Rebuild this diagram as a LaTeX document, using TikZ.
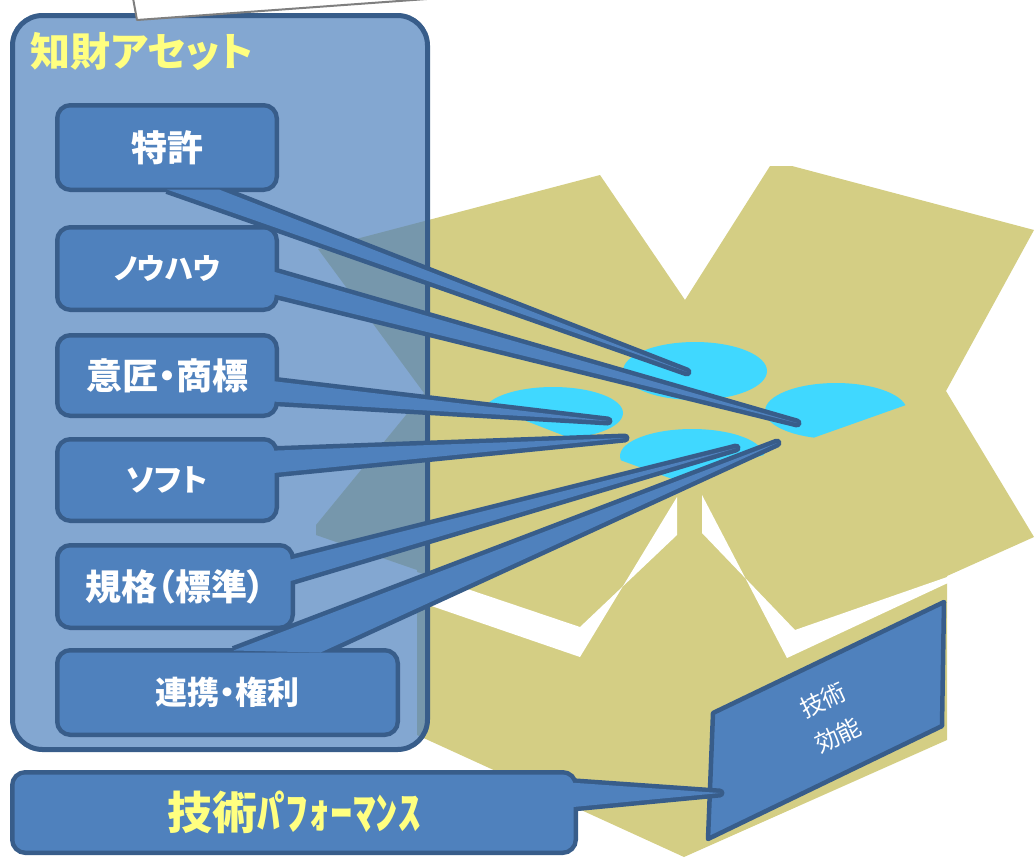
\documentclass[tikz,border=0pt]{standalone}
\usepackage{fontspec}
\newfontfamily\jp{Noto Sans CJK JP}[RawFeature=+palt]
\usetikzlibrary{calc}

\definecolor{boxblue}{HTML}{4F81BD}
\definecolor{edgeblue}{HTML}{385D8A}
\definecolor{cardboard}{HTML}{D4CE84}
\definecolor{lidblue}{HTML}{40D8FF}
\definecolor{titleyellow}{HTML}{FFFF80}
\definecolor{papergray}{HTML}{7F7F7F}

% bold Japanese face at a given size (pt)
\newcommand{\jpbold}[1]{\jp\bfseries\fontsize{#1}{#1}\selectfont}
% speech-bubble tail: outline first, then the body over it
\newcommand{\drawtail}[3]{%
  \path[tailedge] #1 -- #2 -- #3;
  \fill[boxblue] #1 -- #2 -- #3 -- cycle;}

\begin{document}
\begin{tikzpicture}[x=1pt, y=-1pt,
  boxsize/.style 2 args={minimum width=#1pt, minimum height=#2pt},
  cardbase/.style={rectangle, rounded corners=11pt, inner sep=0pt,
    draw=edgeblue, line width=9pt, fill=boxblue},
  cardface/.style={rectangle, rounded corners=11pt, inner sep=0pt,
    fill=boxblue, text=white},
  tailedge/.style={draw=edgeblue, line width=9pt, line join=round},
  panel/.style={fill=boxblue, draw=edgeblue, line width=4.5pt, line join=round},
  paneltext/.style={rotate=25, text=white, inner sep=1pt,
    font=\jp\fontsize{24}{24}\selectfont},
  lid/.style={fill=lidblue},
  slit/.style={fill=white}]

\useasboundingbox (0,0) rectangle (1035,857);

% ---- open cardboard box ----
\fill[cardboard] (318,249) -- (600,175) -- (685,300) -- (770,166) -- (792,166)
  -- (1034,230) -- (946,391) -- (1034,537) -- (947,576) -- (947,740)
  -- (684,857) -- (417,735) -- (417,570) -- (316,535) -- (316,525)
  -- (424,393) -- cycle;
% gaps between the flaps and the box body
\fill[slit] (677,497) -- (677,535) -- (580,627) -- (417,572) -- (417,601)
  -- (580,657) -- cycle;
\fill[slit] (702,495) -- (702,533) -- (795,630) -- (950,576) -- (950,582)
  -- (787,658) -- cycle;

% ---- light-blue discs inside the box ----
\fill[lid] (695,371) ellipse [x radius=72pt, y radius=29pt];
\begin{scope}
  \clip (1098,337) -- (618,507) -- (600,300) -- (1100,300) -- cycle;
  \fill[lid] (836,411) ellipse [x radius=71pt, y radius=28pt];
\end{scope}
\begin{scope}
  \clip (315,339) -- (740,504) -- (740,300) -- (315,300) -- cycle;
  \fill[lid] (553,413) ellipse [x radius=70pt, y radius=26pt];
\end{scope}
\begin{scope}
  \clip (565,440) -- (675,480) -- (853,430) -- (853,380) -- (565,380) -- cycle;
  \fill[lid] (692,456) ellipse [x radius=72pt, y radius=27pt];
\end{scope}

% ---- IP asset container ----
\node[rectangle, rounded corners=30pt, inner sep=0pt, boxsize={415}{734},
  fill=boxblue, fill opacity=0.7, draw=edgeblue, line width=5pt]
  (assets) at (220,382.5) {};
\node[text=titleyellow, font=\jpbold{40}] (assetsTitle) at (142,51) {知財アセット};

% ---- asset cards with their pointers ----
\node[cardbase, boxsize={215}{80}] (patent) at (167,147.5) {};
\coordinate (patentTip) at (687,372);
\drawtail{($(patent.south west)+(112,-2.5)$)}{(patentTip)}{($(patent.south west)+(164,-2.5)$)}
\node[cardface, boxsize={215}{80}, font=\jpbold{36}] (patentLabel) at (patent.center) {特許};

\node[cardbase, boxsize={215}{78}] (knowhow) at (167,268.5) {};
\coordinate (knowhowTip) at (797,423);
\drawtail{($(knowhow.east)+(-14.5,0.5)$)}{(knowhowTip)}{($(knowhow.east)+(-14.5,23.5)$)}
\node[cardface, boxsize={215}{78}, font=\jpbold{29}] (knowhowLabel) at (knowhow.center) {ノウハウ};

\node[cardbase, boxsize={215}{76}] (design) at (167,375.5) {};
\coordinate (designTip) at (608,421);
\drawtail{($(design.east)+(-15.5,4.5)$)}{(designTip)}{($(design.east)+(-15.5,25.5)$)}
\node[cardface, boxsize={215}{76}, font=\jpbold{36}] (designLabel) at (design.center) {意匠・商標};

\node[cardbase, boxsize={215}{77}] (soft) at (167,480) {};
\coordinate (softTip) at (625,438);
\drawtail{($(soft.east)+(-15.5,-29)$)}{(softTip)}{($(soft.east)+(-15.5,-6)$)}
\node[cardface, boxsize={215}{77}, font=\jpbold{31}] (softLabel) at (soft.center) {ソフト};

\node[cardbase, boxsize={231}{78}] (standard) at (175,586.5) {};
\coordinate (standardTip) at (736,448);
\drawtail{($(standard.east)+(-14.5,-24.5)$)}{(standardTip)}{($(standard.east)+(-14.5,-2.5)$)}
\node[cardface, boxsize={231}{78}, font=\jpbold{36}] (standardLabel) at (standard.center) {規格（標準）};

\node[cardbase, boxsize={336}{80}] (collab) at (227.5,692.5) {};
\coordinate (collabTip) at (777,443);
\drawtail{($(collab.north west)+(178.5,2.5)$)}{(collabTip)}{($(collab.north west)+(265.5,4.5)$)}
\node[cardface, boxsize={336}{80}, font=\jpbold{32}] (collabLabel) at (collab.center) {連携・権利};

% ---- technical effect panel ----
\coordinate (panelA) at (713,713);
\coordinate (panelB) at (944,602);
\coordinate (panelC) at (942,726);
\coordinate (panelD) at (708,839);
\draw[panel] (panelA) -- (panelB) -- (panelC) -- (panelD) -- cycle;
\node[paneltext] (panelText1) at (823,700) {技術};
\node[paneltext] (panelText2) at (838,735) {効能};

% ---- technical performance bar ----
\node[cardbase, boxsize={559}{76}] (perf) at (294,812.5) {};
\coordinate (perfTip) at (720,793);
\drawtail{($(perf.east)+(-15.5,-30.5)$)}{(perfTip)}{($(perf.east)+(-15.5,-4.5)$)}
\node[cardface, boxsize={559}{76}, text=titleyellow, font=\jpbold{45}] (perfLabel)
  at (perf.center) {技術ﾊ\kern-0.12emﾟ\kern-0.24emﾌｫｰﾏﾝｽ};

% ---- sheet of paper at the top edge ----
\draw[fill=white, draw=papergray, line width=2pt, line join=round]
  (131.5,-10) -- (137,20) -- (551,-10) -- cycle;
\end{tikzpicture}
\end{document}
